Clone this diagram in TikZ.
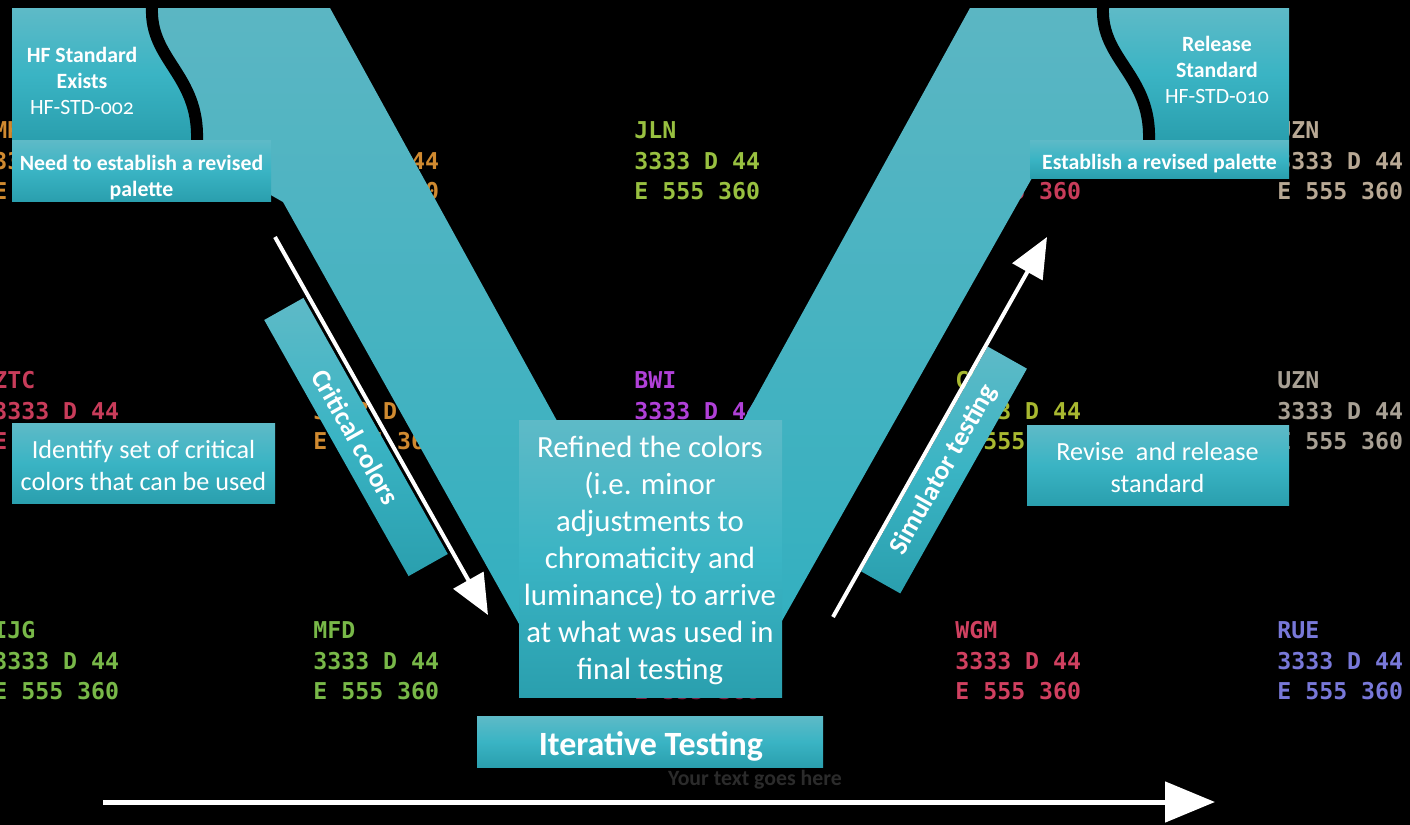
\documentclass[tikz,border=0pt]{standalone}
\usepackage{fontspec}
\setmainfont{Carlito}
\newfontfamily\radarfont{DejaVu Sans Mono}
\newfontfamily\osffont{Carlito}[Numbers=OldStyle]
\usetikzlibrary{arrows.meta}
\definecolor{tealA}{HTML}{5EBAC7}
\definecolor{tealB}{HTML}{3AB4C4}
\definecolor{tealC}{HTML}{2A9FAE}
\definecolor{vtop}{HTML}{5BB6C3}
\definecolor{vbot}{HTML}{2FAFBF}
\definecolor{greytxt}{HTML}{2B2B2B}
\definecolor{rOrange}{HTML}{D08A30}
\definecolor{rYgreen}{HTML}{98C040}
\definecolor{rCrimson}{HTML}{C83C5A}
\definecolor{rTan}{HTML}{B8A894}
\definecolor{rMagenta}{HTML}{B040D8}
\definecolor{rOlive}{HTML}{A8B830}
\definecolor{rGrey}{HTML}{A8A094}
\definecolor{rGreen}{HTML}{78B848}
\definecolor{rPink}{HTML}{7A2040}
\definecolor{rRed}{HTML}{D04060}
\definecolor{rBlue}{HTML}{7878D8}
\newcommand{\rdblock}[5]{%
  \node[rtxt,text=#3] (#5a) at (#1,#2) {#4};
  \node[rtxt,text=#3] (#5b) at (#1,#2+31) {3333 D 44};
  \node[rtxt,text=#3] (#5c) at (#1,#2+61) {E 555 360};}
\newcommand{\rdnums}[4]{%
  \node[rtxt,text=#3] (#4b) at (#1,#2+31) {3333 D 44};
  \node[rtxt,text=#3] (#4c) at (#1,#2+61) {E 555 360};}
\begin{document}
\begin{tikzpicture}[x=0.5pt,y=-0.5pt,
  rtxt/.style={anchor=west, inner sep=0pt, font=\radarfont\bfseries\fontsize{11.6}{14}\selectfont},
  boxshade/.style={top color=tealA, bottom color=tealC, middle color=tealB},
  lbl/.style={text=white, align=center, inner sep=0pt},
  smalltxt/.style={lbl, font=\fontsize{10.9}{13}\selectfont},
  midtxt/.style={lbl, font=\fontsize{13.1}{16}\selectfont},
  bigtxt/.style={lbl, font=\fontsize{15.4}{18.5}\selectfont},
  rotbox/.style={boxshade, text=white, inner sep=0pt, font=\bfseries\fontsize{13.5}{16}\selectfont, minimum height=22.5pt},
  warrow/.style={draw=white, line width=2pt},
  wave/.style={draw=black, line width=6pt}]
\useasboundingbox (0,0) rectangle (1410,825);
\fill[black] (0,0) rectangle (1410,825);
% background radar texts
\begin{scope}
\clip (0,0) rectangle (1410,825);
\rdblock{-7}{130}{rOrange}{MKC}{r11}
\rdnums{313}{130}{rOrange}{r12}
\rdblock{634}{130}{rYgreen}{JLN}{r13}
\node[rtxt,text=rCrimson] (r14c) at (955,191) {E 555 360};
\rdblock{1277}{130}{rTan}{UZN}{r15}
\rdblock{-7}{380}{rCrimson}{ZTC}{r21}
\rdnums{313}{380}{rOrange}{r22}
\rdblock{634}{380}{rMagenta}{BWI}{r23}
\rdblock{955}{380}{rOlive}{CVG}{r24}
\rdblock{1277}{380}{rGrey}{UZN}{r25}
\rdblock{-7}{630}{rGreen}{IJG}{r31}
\rdblock{313}{630}{rGreen}{MFD}{r32}
\node[rtxt,text=rPink] (r33c) at (634,691) {E 555 360};
\rdblock{955}{630}{rRed}{WGM}{r34}
\rdblock{1277}{630}{rBlue}{RUE}{r35}
\end{scope}
% V shape
\shade[top color=vtop, bottom color=vbot]
  (152,8) -- (330,8) -- (650,590) -- (970,8) -- (1103,8)
  .. controls (1101,60) and (1151,75) .. (1149,140)
  -- (1032,178) -- (743,690) -- (556,690) -- (283,202) -- (262,190) -- (197,140)
  .. controls (199,75) and (150,60) .. (152,8) -- cycle;
% top boxes with wavy edges
\shade[boxshade] (12,8) -- (152,8) .. controls (150,60) and (199,75) .. (197,140) -- (12,140) -- cycle;
\shade[boxshade] (1103,8) -- (1289,8) -- (1289,140) -- (1149,140) .. controls (1151,75) and (1101,60) .. (1103,8) -- cycle;
\draw[wave] (152,8) .. controls (150,60) and (199,75) .. (197,140);
\draw[wave] (1103,8) .. controls (1101,60) and (1151,75) .. (1149,140);
\node[smalltxt] (hf) at (82,81) {\textbf{HF Standard}\\\textbf{Exists}\\HF-STD-{\osffont 002}};
\node[smalltxt] (rel) at (1217,69.5) {\textbf{Release}\\\textbf{Standard}\\HF-STD-{\osffont 010}};
% sub boxes
\shade[boxshade] (12,140) rectangle (271,201);
\node[smalltxt, font=\bfseries\fontsize{10.9}{13}\selectfont] (need) at (141.5,178) {Need to establish a revised\\palette};
\shade[boxshade] (1030,140) rectangle (1289,178);
\node[smalltxt, font=\bfseries\fontsize{10.9}{13}\selectfont] (est) at (1159.5,164) {Establish a revised palette};
\shade[boxshade] (12,423) rectangle (275,503);
\node[midtxt] (ident) at (143.5,465) {Identify set of critical\\colors that can be used};
\shade[boxshade] (1027,425) rectangle (1289,505);
\node[midtxt] (revise) at (1157.5,467) {Revise\ \ and release\\standard};
% center box
\shade[boxshade] (519,420) rectangle (782,697);
\node[bigtxt] (refined) at (650,560) {Refined the colors\\(i.e. minor\\adjustments to\\chromaticity and\\luminance) to arrive\\at what was used in\\final testing};
% rotated labels
\node[rotbox, rotate=-60.6, minimum width=147pt] (crit) at (356,437) {Critical colors};
\node[rotbox, rotate=60.6, minimum width=129pt] (sim) at (944,470) {Simulator testing};
% arrows
\coordinate (ca0) at (275,237);
\coordinate (ca1) at (488,615);
\draw[warrow, -{Triangle[length=20pt,width=17pt]}] (ca0) -- (ca1);
\coordinate (sa0) at (833,617);
\coordinate (sa1) at (1047,237);
\draw[warrow, -{Triangle[length=20pt,width=17pt]}] (sa0) -- (sa1);
% iterative testing
\shade[boxshade] (477,716) rectangle (823,767);
\node[lbl, font=\bfseries\fontsize{17}{20}\selectfont] (iter) at (651,746) {Iterative Testing};
\node[lbl, text=greytxt, font=\bfseries\fontsize{10.9}{13}\selectfont] (your) at (755,780) {Your text goes here};
% bottom arrow
\coordinate (ba0) at (103,802);
\coordinate (ba1) at (1215,802);
\draw[draw=white, line width=2.5pt, -{Triangle[length=25pt,width=20pt]}] (ba0) -- (ba1);
\end{tikzpicture}
\end{document}
